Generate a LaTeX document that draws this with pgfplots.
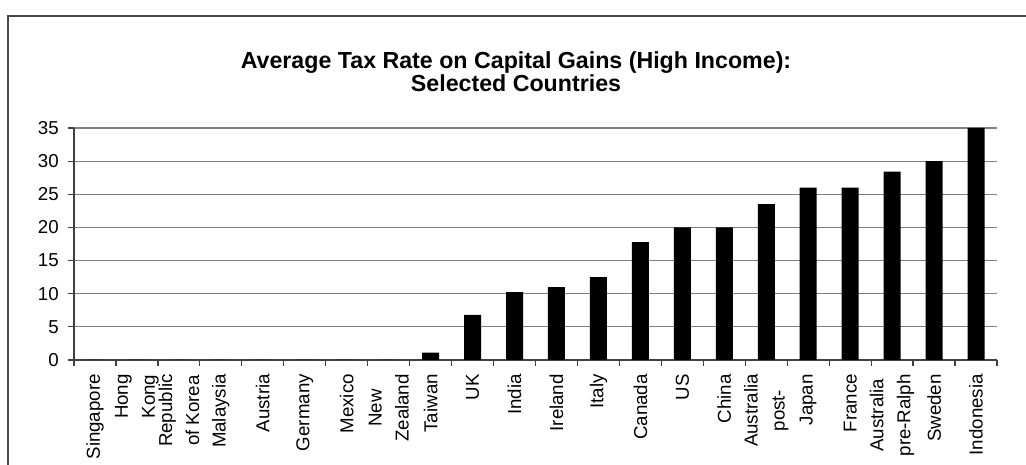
\documentclass[border=0pt]{standalone}
\usepackage{pgfplots}
\pgfplotsset{compat=1.18}
\usepackage{fontspec}
\setmainfont{Liberation Sans}
\definecolor{gridcol}{RGB}{128,128,128}
\definecolor{axiscol}{RGB}{64,64,64}
\definecolor{framecol}{RGB}{70,70,70}
\begin{document}
\begin{tikzpicture}[x=1pt,y=1pt]
\useasboundingbox (0,0) rectangle (1026,465);
\clip (0,0) rectangle (1026,465);
\fill[white] (0,0) rectangle (1026,465);
\draw[framecol, line width=1.5pt] (8,-20) -- (8,449) -- (1050,449);
\node[font=\bfseries\fontsize{23.2}{23.4}\selectfont, align=center, anchor=base, inner sep=0pt] at (516,373.3) {Average Tax Rate on Capital Gains (High Income):\\Selected Countries};
\begin{axis}[
  at={(74pt,105pt)}, anchor=south west,
  scale only axis, width=923pt, height=232pt,
  xmin=-0.5, xmax=21.5, ymin=0, ymax=35,
  axis x line*=bottom, axis y line*=left,
  axis line style={axiscol, line width=1.2pt, -},
  ymajorgrids, major grid style={gridcol, line width=1.2pt},
  ytick={0,5,...,35},
  xtick={0,...,21},
  minor xtick={-0.5,0.5,...,21.5},
  tick align=outside,
  major tick length=6pt, minor tick length=6pt,
  major x tick style={draw=none},
  minor x tick style={axiscol, line width=1.2pt},
  ytick style={axiscol, line width=1.2pt},
  /pgf/number format/assume math mode=true,
  ticklabel style={font=\fontsize{18.7}{27}\selectfont},
  yticklabel style={anchor=east, inner sep=0pt, xshift=-9pt},
  xticklabel style={yshift=-8pt, rotate=90, anchor=east, align=center, inner sep=0pt},
  xticklabels={Singapore, {Hong\\Kong}, {Republic\\of Korea}, Malaysia, Austria, Germany, Mexico, {New\\Zealand}, Taiwan, UK, India, Ireland, Italy, Canada, US, China, {Australia\\post-}, Japan, France, {Australia\\pre-Ralph}, Sweden, Indonesia},
]
\addplot[ybar, bar width=17pt, fill=black, draw=none] coordinates {
(0,0) (1,0) (2,0) (3,0) (4,0) (5,0) (6,0) (7,0) (8,1.1) (9,6.8) (10,10.25)
(11,11.0) (12,12.5) (13,17.8) (14,20) (15,20) (16,23.5) (17,26) (18,26)
(19,28.4) (20,30) (21,35)
};
\end{axis}
\end{tikzpicture}
\end{document}
